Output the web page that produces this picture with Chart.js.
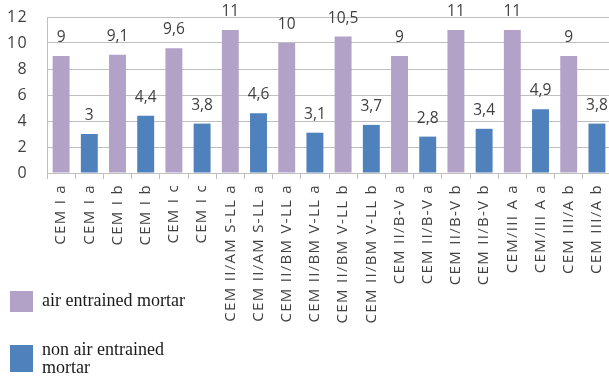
<!DOCTYPE html>
<html>
<head>
<meta charset="utf-8">
<script src="https://cdn.jsdelivr.net/npm/chart.js@4/dist/chart.umd.min.js"></script>
<style>
  html, body { margin: 0; padding: 0; background: #fff; width: 609px; height: 379px; overflow: hidden; }
  #wrap { position: relative; width: 620px; height: 379px; }
  #legend { position: absolute; left: 10px; top: 290px; font-family: "Liberation Serif", "Times New Roman", "Noto Serif", "DejaVu Serif", serif; font-size: 18px; color: #1a1a1a; }
  .item { position: absolute; left: 0; white-space: nowrap; }
  .box { position: absolute; left: 0; width: 23px; }
  .txt { position: absolute; left: 32px; line-height: 18px; }
</style>
</head>
<body>
<div id="wrap">
  <canvas id="c" width="620" height="379"></canvas>
  <div id="legend">
    <div class="item" style="top:0">
      <div class="box" style="top:1px;height:21px;background:#B3A2C7"></div>
      <div class="txt" style="top:1px">air entrained mortar</div>
    </div>
    <div class="item" style="top:55px">
      <div class="box" style="top:0;height:27px;background:#4F81BD"></div>
      <div class="txt" style="top:-5px">non air entrained<br>mortar</div>
    </div>
  </div>
</div>
<script>
const categories = [
  "CEM I a","CEM I a","CEM I b","CEM I b","CEM I c","CEM I c",
  "CEM II/AM S-LL a","CEM II/AM S-LL a","CEM II/BM V-LL a","CEM II/BM V-LL a",
  "CEM II/BM V-LL b","CEM II/BM V-LL b","CEM II/B-V a","CEM II/B-V a",
  "CEM II/B-V b","CEM II/B-V b","CEM/III A a","CEM/III A a","CEM III/A b","CEM III/A b"
];
const airEntrained    = [9, 9.1, 9.6, 11, 10, 10.5, 9, 11, 11, 9];
const nonAirEntrained = [3, 4.4, 3.8, 4.6, 3.1, 3.7, 2.8, 3.4, 4.9, 3.8];
const yTicks = [0, 2, 4, 6, 8, 10, 12];

const airData = [], nonData = [];
for (let i = 0; i < airEntrained.length; i++) {
  airData.push(airEntrained[i], null);
  nonData.push(null, nonAirEntrained[i]);
}

const FONT = '"Open Sans", sans-serif';
const PLOT_TOP = 17;

const spacing = {
  id: 'spacing',
  beforeDraw(chart) { chart.ctx.letterSpacing = '1.3px'; },
  beforeDatasetsDraw(chart) { chart.ctx.letterSpacing = '0px'; }
};

const valueLabels = {
  id: 'valueLabels',
  afterDatasetsDraw(chart) {
    const ctx = chart.ctx;
    ctx.save();
    ctx.letterSpacing = '0px';
    ctx.font = '15.5px ' + FONT;
    ctx.fillStyle = '#404040';
    ctx.textAlign = 'center';
    ctx.textBaseline = 'alphabetic';
    chart.data.datasets.forEach((ds, di) => {
      const meta = chart.getDatasetMeta(di);
      meta.data.forEach((bar, i) => {
        const v = ds.data[i];
        if (v === null || v === undefined) return;
        ctx.fillText(String(v).replace('.', ','), bar.x, bar.y - 14);
      });
    });
    ctx.restore();
  }
};

const chart = new Chart(document.getElementById('c'), {
  type: 'bar',
  data: {
    labels: categories,
    datasets: [
      { label: 'air entrained mortar', data: airData, backgroundColor: '#B3A2C7', grouped: false, barPercentage: 0.6, categoryPercentage: 1 },
      { label: 'non air entrained mortar', data: nonData, backgroundColor: '#4F81BD', grouped: false, barPercentage: 0.6, categoryPercentage: 1 }
    ]
  },
  options: {
    responsive: false,
    animation: false,
    layout: { padding: { top: PLOT_TOP, right: 3, left: 0, bottom: 0 } },
    plugins: { legend: { display: false }, tooltip: { enabled: false } },
    scales: {
      x: {
        grid: { drawOnChartArea: false, drawTicks: true, tickLength: 6, color: '#bfbfbf', offset: true },
        border: { color: '#bfbfbf' },
        ticks: { autoSkip: false, minRotation: 90, maxRotation: 90, color: '#404040', padding: 5,
                 font: { size: 15, family: FONT } },
        afterFit(s) { s.height = 206; }
      },
      y: {
        min: 0, max: 12,
        afterBuildTicks(s) { s.ticks = yTicks.map(v => ({ value: v })); },
        grid: { color: '#bfbfbf', drawTicks: false },
        border: { color: '#bfbfbf' },
        ticks: { padding: 19, color: '#404040', font: { size: 16, family: FONT } },
        afterFit(s) { s.width = 47; s.paddingTop = 0; s.paddingBottom = 0; }
      }
    }
  },
  plugins: [spacing, valueLabels]
});
for (let k = 0; k < 3; k++) {
  const diff = chart.chartArea.top - PLOT_TOP;
  if (Math.abs(diff) < 0.5) break;
  chart.options.layout.padding.top -= diff;
  chart.update();
}
</script>
</body>
</html>
